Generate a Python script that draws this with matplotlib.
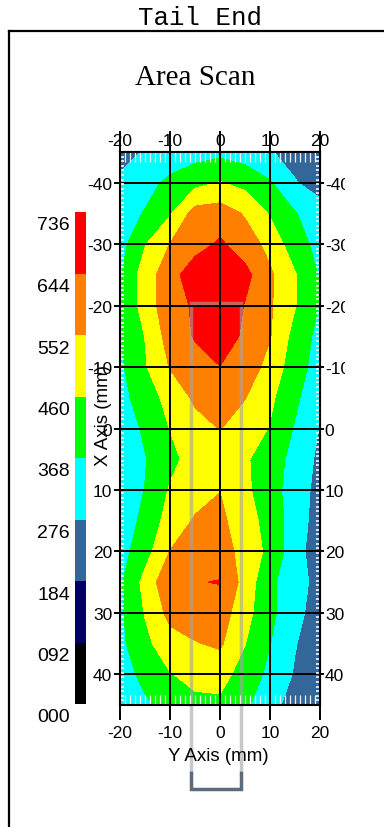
import matplotlib
matplotlib.use("Agg")
import matplotlib.pyplot as plt
import numpy as np
from matplotlib.ticker import MultipleLocator, FixedLocator
from matplotlib.transforms import Bbox, TransformedBbox, offset_copy, blended_transform_factory
from matplotlib.lines import Line2D

plt.rcParams['font.family'] = ['Liberation Sans', 'DejaVu Sans']
plt.rcParams['axes.unicode_minus'] = False

# ---------------- data ----------------
x_mm = [-20, -15, -10, -5, 0, 5, 10, 15, 20]
y_mm = [-45, -40, -35, -30, -25, -20, -15, -10, -5, 0, 5, 10, 15, 20, 25, 30, 35, 40, 45]
z_rows = [
    [239, 285, 313, 331, 345, 322, 281, 248, 212],   # y=-45
    [294, 340, 386, 432, 465, 432, 377, 281, 239],   # y=-40
    [331, 373, 451, 589, 598, 543, 451, 373, 313],   # y=-35
    [331, 455, 554, 607, 658, 598, 524, 405, 340],   # y=-30
    [359, 506, 606, 699, 727, 672, 566, 467, 359],   # y=-25
    [373, 497, 616, 653, 718, 639, 563, 465, 363],   # y=-20
    [370, 462, 592, 651, 699, 626, 557, 426, 339],   # y=-15
    [350, 451, 557, 607, 642, 598, 524, 405, 331],   # y=-10
    [331, 423, 485, 569, 607, 555, 478, 386, 294],   # y=-5
    [313, 382, 462, 515, 555, 506, 455, 359, 271],   # y=0
    [322, 363, 432, 501, 515, 469, 423, 331, 257],   # y=5
    [322, 370, 469, 515, 550, 478, 408, 322, 246],   # y=10
    [304, 396, 497, 561, 570, 506, 419, 327, 230],   # y=15
    [331, 423, 554, 589, 598, 515, 437, 313, 221],   # y=20
    [354, 488, 627, 639, 648, 515, 386, 313, 245],   # y=25
    [350, 465, 580, 598, 598, 492, 391, 299, 239],   # y=30
    [345, 437, 515, 547, 566, 462, 370, 281, 221],   # y=35
    [313, 400, 455, 488, 492, 423, 345, 267, 212],   # y=40
    [285, 350, 405, 437, 442, 382, 313, 230, 193],   # y=45
]
levels = [0, 92, 184, 276, 368, 460, 552, 644, 736]
level_labels = ["000", "092", "184", "276", "368", "460", "552", "644", "736"]
level_colors = ['#000000', '#000066', '#336699', '#00FFFF',
                '#00FF00', '#FFFF00', '#FF8000', '#FF0000']
x_ticks = [-20, -10, 0, 10, 20]
y_ticks = [-40, -30, -20, -10, 0, 10, 20, 30, 40]
probe_x = [-5.8, 4.1]
probe_top = -20.5

# ---------------- layout helpers ----------------
W, H = 384, 828
def fx(px): return px / W
def fy(py): return 1 - py / H

fig = plt.figure(figsize=(W / 100, H / 100), dpi=100)
fig.patch.set_facecolor('white')

fig.text(fx(200), fy(18), "Tail End", family=['Liberation Mono', 'DejaVu Sans Mono'],
         fontsize=18.5, ha='center', va='center')
fig.text(fx(195), fy(78), "Area Scan", family=['Liberation Serif', 'DejaVu Serif'],
         fontsize=21, ha='center', va='center')

# outer frame
fig.add_artist(Line2D([fx(9), fx(9)], [fy(32), 0], transform=fig.transFigure, color='black', lw=1.6))
fig.add_artist(Line2D([fx(9), 1], [fy(32), fy(32)], transform=fig.transFigure, color='black', lw=1.6))

# ---------------- main plot ----------------
ax = fig.add_axes([fx(120), fy(706), 200 / W, 553 / H])
cs = ax.contourf(x_mm, y_mm, np.array(z_rows), levels=levels, colors=level_colors)
ax.set_xlim(-20, 20)
ax.set_ylim(45, -45)

ax.xaxis.set_major_locator(FixedLocator(x_ticks))
ax.yaxis.set_major_locator(FixedLocator(y_ticks))
ax.xaxis.set_minor_locator(MultipleLocator(1))
ax.yaxis.set_minor_locator(MultipleLocator(0.75))
ax.grid(True, which='major', color='black', lw=1.4)

tick_font = 12.5
ax.tick_params(axis='x', which='major', direction='out', length=10.5, width=1.4,
               pad=4, labelsize=tick_font, bottom=True, top=False)
ax.tick_params(axis='y', which='major', direction='out', length=4.5, width=1.4,
               pad=1, labelsize=tick_font, left=True, right=False)
ax.tick_params(axis='x', which='minor', direction='in', length=7, width=0.9,
               color='#F0F0F0', bottom=True, top=True)
ax.tick_params(axis='y', which='minor', direction='in', length=3.2, width=1.3,
               color='#F0F0F0', left=True, right=True)
for s in ax.spines.values():
    s.set_linewidth(1.5)

sec_x = ax.secondary_xaxis('top')
sec_x.xaxis.set_major_locator(FixedLocator(x_ticks))
sec_x.xaxis.set_minor_locator(MultipleLocator(1))
sec_x.tick_params(axis='x', which='major', direction='out', length=15, width=1.4,
                  pad=-12, labelsize=tick_font)
sec_x.tick_params(axis='x', which='minor', direction='in', length=7, width=0.9, color='#F0F0F0')
sec_x.spines['top'].set_linewidth(1.5)

sec_y = ax.secondary_yaxis('right')
sec_y.yaxis.set_major_locator(FixedLocator(y_ticks))
sec_y.yaxis.set_minor_locator(MultipleLocator(0.75))
sec_y.tick_params(axis='y', which='major', direction='out', length=3, width=1.4,
                  pad=0.5, labelsize=tick_font)
sec_y.tick_params(axis='y', which='minor', direction='in', length=3.2, width=1.3, color='#F0F0F0')
sec_y.spines['right'].set_linewidth(1.5)

right_clip = TransformedBbox(Bbox([[0, 0], [345 / W, 1]]), fig.transFigure)
for t in sec_y.yaxis.get_major_ticks():
    for lab in (t.label1, t.label2):
        lab.set_clip_box(right_clip)
        lab.set_clip_on(True)

# probe outline
bracket_top = 55.7
bracket_bottom = 58.7
ax.plot([probe_x[0], probe_x[0], probe_x[1], probe_x[1]],
        [bracket_top, probe_top, probe_top, bracket_top],
        color='#A4A4A4', alpha=0.6, lw=2.5, clip_on=False, zorder=1.2,
        solid_joinstyle='miter', solid_capstyle='butt')
ax.plot([probe_x[0], probe_x[0], probe_x[1], probe_x[1]],
        [bracket_top, bracket_bottom, bracket_bottom, bracket_top],
        color='#5C6B79', lw=2.5, clip_on=False, zorder=3,
        solid_joinstyle='miter', solid_capstyle='butt')

fig.text(fx(218), fy(757), "Y Axis (mm)", fontsize=13.5, ha='center', va='center')
fig.text(fx(103), fy(416), "X Axis (mm)", fontsize=13.5, ha='center', va='center', rotation=90)

# ---------------- colour bar ----------------
cax = fig.add_axes([fx(75), fy(705), 11 / W, 492 / H])
cb = fig.colorbar(cs, cax=cax)
cb.outline.set_visible(False)
cb.set_ticks([])
cax.tick_params(left=False, right=False)

lab_tr = offset_copy(blended_transform_factory(fig.transFigure, cax.transData),
                     fig=fig, x=0, y=-13, units='dots')
lab_clip = TransformedBbox(Bbox([[37.5 / W, 0], [1, 1]]), fig.transFigure)
for val, lab in zip(levels, level_labels):
    t = fig.text(fx(70), val, lab, transform=lab_tr, fontsize=14, ha='right', va='center')
    t.set_clip_box(lab_clip)
    t.set_clip_on(True)

fig.savefig("out.png", dpi=100)
